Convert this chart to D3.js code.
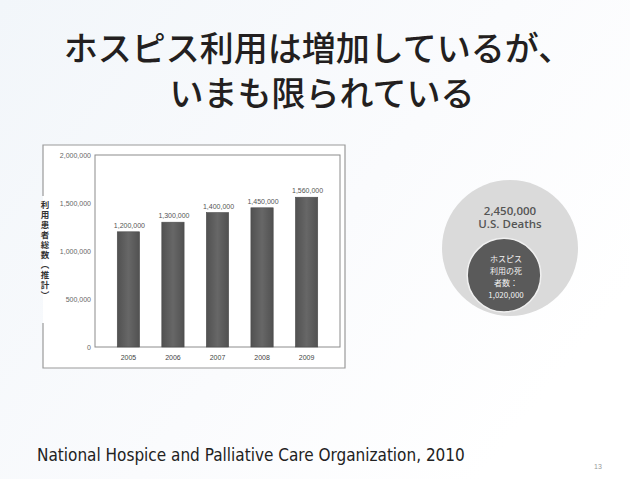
<!DOCTYPE html>
<html>
<head>
<meta charset="utf-8">
<script src="https://cdn.jsdelivr.net/npm/d3@7"></script>
<style>
body { margin: 0; overflow: hidden; }
svg { display: block; }
</style>
</head>
<body>
<script>
/* Data */
var years = ["2005", "2006", "2007", "2008", "2009"],
	patients = [1200000, 1300000, 1400000, 1450000, 1560000],
	yTicks = [0, 500000, 1000000, 1500000, 2000000],
	titleLines = ["ホスピス利用は増加しているが、", "いまも限られている"],
	yLabel = "利用患者総数（推計）",
	deathValues = [2450000, 1020000],
	bigLabels = ["2,450,000", "U.S. Deaths"],
	smallLabels = ["ホスピス", "利用の死", "者数：", "1,020,000"],
	source = "National Hospice and Palliative Care Organization, 2010",
	pageNo = "13";

/* Display setup */
var W = 630, H = 479,
	jp = "'Noto Sans CJK JP', sans-serif",
	svg = d3.select("body").append("svg")
		.attr("width", W)
		.attr("height", H),
	defs = svg.append("defs");

var bg = defs.append("linearGradient")
	.attr("id", "bg")
	.attr("x1", 0).attr("y1", 0).attr("x2", 1).attr("y2", 0.6);
bg.append("stop").attr("offset", 0).attr("stop-color", "#f2f6fa");
bg.append("stop").attr("offset", 0.6).attr("stop-color", "#fafbfd");
bg.append("stop").attr("offset", 1).attr("stop-color", "#ffffff");

var barGrad = defs.append("linearGradient")
	.attr("id", "barGrad")
	.attr("x1", 0).attr("x2", 1).attr("y1", 0).attr("y2", 0);
barGrad.append("stop").attr("offset", 0).attr("stop-color", "#515151");
barGrad.append("stop").attr("offset", 0.5).attr("stop-color", "#676767");
barGrad.append("stop").attr("offset", 1).attr("stop-color", "#515151");

svg.append("rect")
	.attr("width", W)
	.attr("height", H)
	.style("fill", "url(#bg)");

/* Title */
svg.append("g").selectAll("text")
	.data(titleLines)
	.enter().append("text")
		.attr("x", function(d, i) { return i ? 322 : 318; })
		.attr("y", function(d, i) { return 61 + i * 45; })
		.attr("text-anchor", "middle")
		.style("font-family", jp)
		.style("font-size", "34px")
		.style("font-weight", 500)
		.style("fill", "#231f20")
		.text(function(d) { return d; });

/* Bar chart */
var frame = {left: 43, top: 145, right: 345, bottom: 368},
	plot = {left: 95, top: 155, right: 340, bottom: 347},
	x = d3.scaleBand().domain(years).range([plot.left, plot.right]).padding(0.5),
	y = d3.scaleLinear().domain([0, 2000000]).range([plot.bottom, plot.top]),
	fmt = d3.format(",");

var chart = svg.append("g");

chart.append("rect")
	.attr("x", frame.left)
	.attr("y", frame.top)
	.attr("width", frame.right - frame.left)
	.attr("height", frame.bottom - frame.top)
	.style("fill", "#fff")
	.style("stroke", "none");

// outer frame, left edge broken by the axis label
chart.append("path")
	.attr("d", "M" + frame.left + "," + 196 + "V" + frame.top + "H" + frame.right +
		"V" + frame.bottom + "H" + frame.left + "V" + 323)
	.style("fill", "none")
	.style("stroke", "#9a9a9a")
	.style("stroke-width", 1.2);

chart.append("rect")
	.attr("x", plot.left)
	.attr("y", plot.top)
	.attr("width", plot.right - plot.left)
	.attr("height", plot.bottom - plot.top)
	.style("fill", "none")
	.style("stroke", "#8c8c8c")
	.style("stroke-width", 1);

chart.selectAll(".bar")
	.data(patients)
	.enter().append("rect")
		.attr("class", "bar")
		.attr("x", function(d, i) { return x(years[i]); })
		.attr("y", function(d) { return y(d); })
		.attr("width", x.bandwidth())
		.attr("height", function(d) { return y(0) - y(d); })
		.style("fill", "url(#barGrad)")
		.style("stroke", "#4a4a4a")
		.style("stroke-width", 0.6);

chart.selectAll(".barLabel")
	.data(patients)
	.enter().append("text")
		.attr("class", "barLabel")
		.attr("x", function(d, i) { return x(years[i]) + x.bandwidth() / 2 + 1; })
		.attr("y", function(d) { return y(d) - 4; })
		.attr("text-anchor", "middle")
		.style("font-family", "'Liberation Sans', sans-serif")
		.style("font-size", "7px")
		.style("fill", "#555")
		.text(fmt);

var yAxis = chart.append("g")
	.attr("transform", "translate(" + plot.left + ",0)")
	.call(d3.axisLeft(y).tickValues(yTicks).tickSize(0).tickPadding(4).tickFormat(fmt));
yAxis.select(".domain").remove();
yAxis.selectAll("text")
	.style("font-family", "'Liberation Sans', sans-serif")
	.style("font-size", "7px")
	.style("fill", "#666");

var xAxis = chart.append("g")
	.attr("transform", "translate(0," + plot.bottom + ")")
	.call(d3.axisBottom(x).tickSize(0).tickPadding(8));
xAxis.select(".domain").remove();
xAxis.selectAll("text")
	.style("font-family", "'Liberation Sans', sans-serif")
	.style("font-size", "7px")
	.style("fill", "#444");

// vertical axis title
chart.append("text")
	.attr("x", 45)
	.attr("y", 251)
	.attr("text-anchor", "middle")
	.style("writing-mode", "vertical-rl")
	.style("text-orientation", "upright")
	.style("letter-spacing", "1.5px")
	.style("font-family", jp)
	.style("font-size", "8.5px")
	.style("font-weight", 700)
	.style("fill", "#333")
	.text(yLabel);

/* Nested circles */
var r = d3.scalePow().exponent(0.7).domain([0, deathValues[0]]).range([0, 68]),
	bigC = {x: 510, y: 248},
	bottomY = bigC.y + r(deathValues[0]);

var circles = svg.append("g");

circles.append("circle")
	.attr("cx", bigC.x)
	.attr("cy", bigC.y)
	.attr("r", r(deathValues[0]))
	.style("fill", "#dadada");

var smallR = r(deathValues[1]),
	smallC = {x: 504, y: bottomY - 4 - smallR};

circles.append("circle")
	.attr("cx", smallC.x)
	.attr("cy", smallC.y)
	.attr("r", smallR)
	.style("fill", "#5a5a5a")
	.style("stroke", "#f0f0f0")
	.style("stroke-width", 1.5);

circles.append("text")
	.attr("y", 215)
	.attr("text-anchor", "middle")
	.style("font-family", "'Open Sans', sans-serif")
	.style("font-size", "11.5px")
	.style("font-weight", 600)
	.style("fill", "#555")
	.selectAll("tspan")
	.data(bigLabels)
	.enter().append("tspan")
		.attr("x", bigC.x)
		.attr("dy", function(d, i) { return i ? 13 : 0; })
		.text(function(d) { return d; });

circles.append("text")
	.attr("y", 262)
	.attr("text-anchor", "middle")
	.style("font-family", jp)
	.style("font-size", "8px")
	.style("fill", "#f2f2f2")
	.selectAll("tspan")
	.data(smallLabels)
	.enter().append("tspan")
		.attr("x", smallC.x + 2)
		.attr("dy", function(d, i) { return i ? 12 : 0; })
		.text(function(d) { return d; });

/* Footer */
svg.append("text")
	.attr("x", 37)
	.attr("y", 461)
	.style("font-family", "'DejaVu Sans Condensed', 'DejaVu Sans', sans-serif")
	.style("font-size", "17px")
	.style("fill", "#222")
	.text(source);

svg.append("text")
	.attr("x", 598)
	.attr("y", 469)
	.attr("text-anchor", "middle")
	.style("font-family", "'Liberation Sans', sans-serif")
	.style("font-size", "7px")
	.style("fill", "#999")
	.text(pageNo);
</script>
</body>
</html>
